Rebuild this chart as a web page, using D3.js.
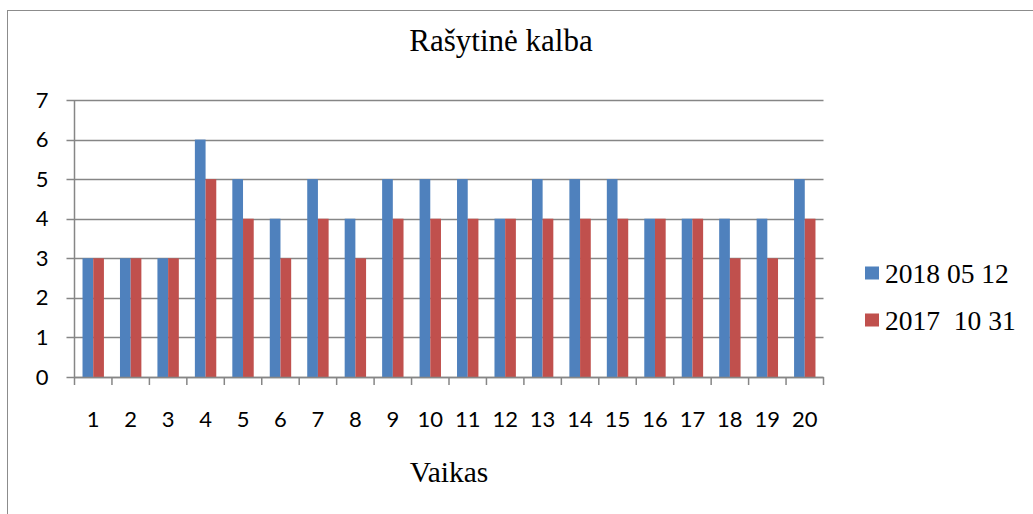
<!DOCTYPE html>
<html><head><meta charset="utf-8">
<script src="https://cdn.jsdelivr.net/npm/d3@7/dist/d3.min.js"></script>
<style>body{margin:0;background:#fff}svg{display:block}</style>
</head><body>
<svg id="c" width="1033" height="514"></svg>
<script>
const categories = ["1","2","3","4","5","6","7","8","9","10","11","12","13","14","15","16","17","18","19","20"];
const seriesNames = ["2018 05 12", "2017  10 31"];
const values2018 = [3,3,3,6,5,4,5,4,5,5,5,4,5,5,5,4,4,4,4,5];
const values2017 = [3,3,3,5,4,3,4,3,4,4,4,4,4,4,4,4,4,3,3,4];
const yTicks = [0,1,2,3,4,5,6,7];
const colors = ["#4F81BD", "#C0504D"];

const svg = d3.select("#c");
svg.append("rect").attr("x",7.5).attr("y",10.5).attr("width",1040).attr("height",520)
  .attr("fill","none").attr("stroke","#8c8c8c").attr("stroke-width",1);

const L = 74.5, R = 823.5, T = 100, B = 377;
const x = d3.scaleBand().domain(categories).range([L, R]).paddingInner(0).paddingOuter(0);
const y = d3.scaleLinear().domain([0, 7]).range([B, T]);
const sansFont = "Lato, 'Open Sans', sans-serif";
const serifFont = "'Liberation Serif', 'Times New Roman', serif";

// gridlines
svg.append("g").selectAll("line").data(yTicks).join("line")
  .attr("x1", L - 8).attr("x2", R).attr("y1", d => Math.round(y(d))+0.5).attr("y2", d => Math.round(y(d))+0.5)
  .attr("stroke", "#868686").attr("stroke-width", 1.5);

// bars
const bw = x.bandwidth() / 3.5;
const series = [values2018, values2017];
series.forEach((vals, si) => {
  svg.append("g").selectAll("rect").data(categories).join("rect")
    .attr("x", (c) => x(c) + x.bandwidth()/2 - bw + si*bw)
    .attr("width", bw)
    .attr("y", (c, i) => y(vals[i]))
    .attr("height", (c, i) => y(0) - y(vals[i]))
    .attr("fill", colors[si]);
});

// y axis line
svg.append("line").attr("x1", L).attr("x2", L).attr("y1", T).attr("y2", B)
  .attr("stroke", "#868686").attr("stroke-width", 1.5);
// x axis labels
const xa = d3.axisBottom(x).tickSize(0).tickPadding(34);
const gx = svg.append("g").attr("transform", `translate(0,${Math.round(B)+0.5})`).call(xa);
gx.select(".domain").remove();
gx.selectAll("text").attr("font-family",sansFont).attr("font-size",22).attr("fill","#000");
// x ticks at category boundaries
const bounds = categories.map(c => x(c)).concat([x(categories[categories.length-1]) + x.bandwidth()]);
svg.append("g").selectAll("line").data(bounds).join("line")
  .attr("x1", d => d).attr("x2", d => d).attr("y1", B).attr("y2", B + 8)
  .attr("stroke", "#868686").attr("stroke-width", 1.5);
svg.append("line").attr("x1", L).attr("x2", R).attr("y1", Math.round(B)+0.5).attr("y2", Math.round(B)+0.5)
  .attr("stroke", "#868686").attr("stroke-width", 1.5);

// y labels
const ya = d3.axisLeft(y).tickValues(yTicks).tickSize(0).tickPadding(26).tickFormat(d3.format("d"));
const gy = svg.append("g").attr("transform", `translate(${L},0)`).call(ya);
gy.select(".domain").remove();
gy.selectAll("text").attr("font-family",sansFont).attr("font-size",22).attr("fill","#000");

// titles
svg.append("text").attr("x", 501).attr("y", 51).attr("text-anchor","middle")
  .attr("font-family",serifFont).attr("font-size",31).text("Rašytinė kalba");
svg.append("text").attr("x", (L+R)/2).attr("y", 482).attr("text-anchor","middle")
  .attr("font-family",serifFont).attr("font-size",29.5).text("Vaikas");

// legend
const lg = svg.append("g");
seriesNames.forEach((n, i) => {
  const yy = 273 + i * 47;
  lg.append("rect").attr("x", 865).attr("y", yy - 6.5).attr("width", 14).attr("height", 13).attr("fill", colors[i]);
  lg.append("text").attr("x", 885).attr("y", yy + 9.5).attr("xml:space","preserve").style("white-space","pre")
    .attr("font-family",serifFont).attr("font-size",27.5).text(n);
});
</script>
</body></html>
